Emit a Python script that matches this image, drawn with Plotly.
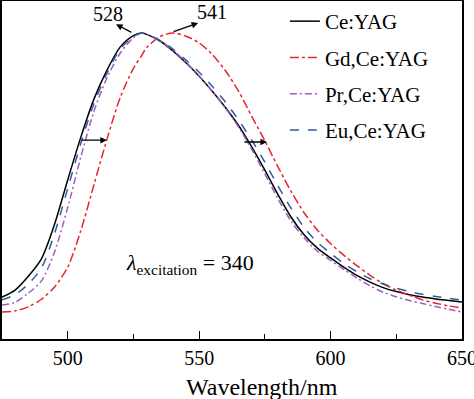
import plotly.graph_objects as go

wavelength = [475, 480, 485, 490, 495, 500, 505, 510, 515, 520, 525, 528, 530, 535, 540,
              545, 550, 555, 560, 565, 570, 575, 580, 585, 590, 595, 600, 605, 610, 615,
              620, 625, 630, 635, 640, 645, 650]

ce_yag = [0.137, 0.160, 0.205, 0.262, 0.375, 0.520, 0.660, 0.785, 0.880, 0.955, 0.992, 1.000,
          0.996, 0.975, 0.942, 0.903, 0.859, 0.810, 0.757, 0.698, 0.628, 0.552, 0.472, 0.398,
          0.340, 0.297, 0.265, 0.235, 0.208, 0.186, 0.168, 0.155, 0.145, 0.137, 0.131, 0.126, 0.121]

gd_ce_yag = [0.088, 0.092, 0.105, 0.130, 0.170, 0.235, 0.355, 0.505, 0.655, 0.790, 0.885, 0.925,
             0.952, 0.988, 1.000, 0.990, 0.968, 0.930, 0.877, 0.810, 0.728, 0.648, 0.563, 0.482,
             0.412, 0.356, 0.312, 0.274, 0.240, 0.208, 0.181, 0.160, 0.143, 0.128, 0.117, 0.108, 0.101]

pr_ce_yag = [0.111, 0.120, 0.150, 0.190, 0.285, 0.430, 0.595, 0.745, 0.855, 0.935, 0.985, 1.000,
             0.996, 0.975, 0.944, 0.905, 0.860, 0.810, 0.755, 0.693, 0.620, 0.540, 0.458, 0.385,
             0.330, 0.287, 0.257, 0.228, 0.200, 0.174, 0.153, 0.138, 0.126, 0.116, 0.106, 0.097, 0.088]

eu_ce_yag = [0.128, 0.145, 0.180, 0.232, 0.345, 0.492, 0.640, 0.770, 0.870, 0.948, 0.989, 1.000,
             0.997, 0.977, 0.948, 0.912, 0.872, 0.826, 0.775, 0.716, 0.650, 0.578, 0.500, 0.427,
             0.364, 0.316, 0.280, 0.247, 0.220, 0.197, 0.180, 0.166, 0.155, 0.146, 0.139, 0.133, 0.127]

series_names = ["Ce:YAG", "Gd,Ce:YAG", "Pr,Ce:YAG", "Eu,Ce:YAG"]
tick_vals = [500, 550, 600, 650]

SERIF = "Liberation Serif, Times New Roman, serif"

fig = go.Figure()
styles = [
    (ce_yag, "#000000", "solid"),
    (gd_ce_yag, "#e5262d", "dashdot"),
    (pr_ce_yag, "#9b5fc0", "7px,3px,2px,3px"),
    (eu_ce_yag, "#2f5d9e", "dash"),
]
for name, (vals, color, dash) in zip(series_names, styles):
    fig.add_trace(go.Scatter(
        x=wavelength, y=vals, mode="lines", name=name, legendgroup=name,
        line=dict(color=color, width=1.5, dash=dash, shape="spline", smoothing=0.8),
    ))

arrow_style = dict(xref="x", yref="y", axref="x", ayref="y", showarrow=True,
                   arrowhead=2, arrowsize=1, arrowwidth=1.3, arrowcolor="black", text="")
label_font = dict(family=SERIF, size=20, color="black")
annotations = [
    dict(x=518.4, y=1.029, ax=524.8, ay=1.0, **arrow_style),
    dict(x=515.3, y=1.062, xref="x", yref="y", text="528", showarrow=False, font=label_font),
    dict(x=549.6, y=1.033, ax=539.7, ay=1.003, **arrow_style),
    dict(x=554.9, y=1.069, xref="x", yref="y", text="541", showarrow=False, font=label_font),
    dict(x=514.9, y=0.650, ax=504.7, ay=0.650, **arrow_style),
    dict(x=575.8, y=0.644, ax=566.7, ay=0.644, **arrow_style),
    dict(x=546.5, y=0.245, xref="x", yref="y",
         text="<i>λ</i><sub>excitation</sub> = 340", showarrow=False,
         font=dict(family=SERIF, size=22, color="black")),
    dict(x=0.565, y=-0.142, xref="paper", yref="paper", text="Wavelength/nm",
         showarrow=False, yanchor="middle", font=dict(family=SERIF, size=24, color="black")),
]

fig.update_layout(
    width=474, height=399,
    margin=dict(l=2, r=12, t=1, b=60, autoexpand=False),
    paper_bgcolor="white", plot_bgcolor="white",
    font=dict(family=SERIF, size=20, color="black"),
    showlegend=True,
    legend=dict(x=0.615, y=1.0, xanchor="left", yanchor="top",
                bgcolor="rgba(0,0,0,0)", font=dict(family=SERIF, size=21),
                tracegroupgap=6, itemwidth=30),
    annotations=annotations,
    xaxis=dict(range=[475, 650], tickvals=tick_vals, ticks="inside", ticklen=8,
               tickwidth=1.2, tickcolor="black", showline=True, linecolor="black",
               linewidth=2, mirror=True, showgrid=False, zeroline=False,
               ticklabeloverflow="allow",
               minor=dict(tickvals=[525, 575, 625], ticks="inside", ticklen=5,
                          tickwidth=1.2, tickcolor="black"),
               tickfont=dict(family=SERIF, size=20)),
    yaxis=dict(range=[0, 1.105], showticklabels=False, ticks="", showline=True,
               linecolor="black", linewidth=2, mirror=True, showgrid=False, zeroline=False),
)

fig.write_html("out.html", config={"displayModeBar": False},
               post_script="document.body.style.margin='0';document.body.style.overflow='hidden';")
